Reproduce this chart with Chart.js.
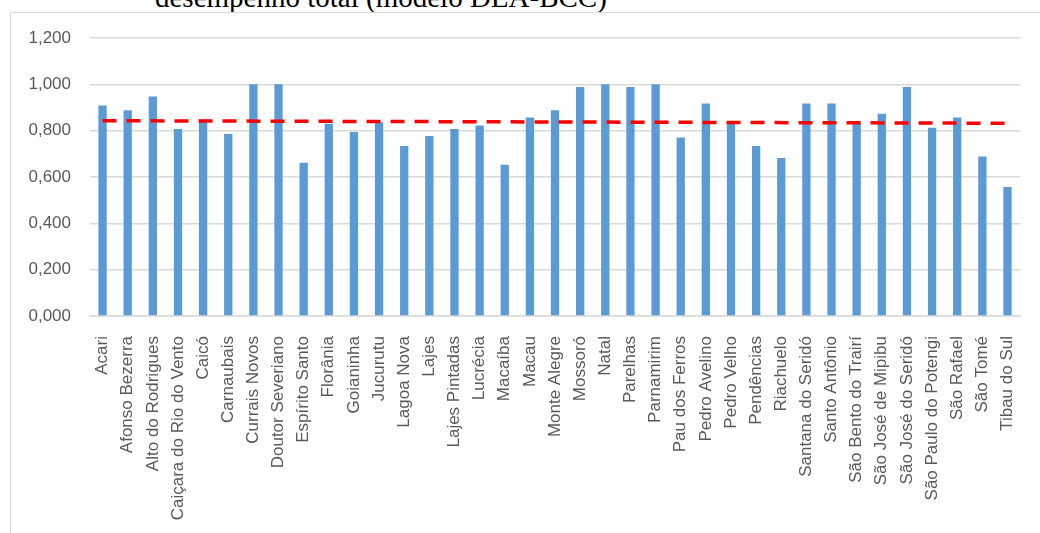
<!DOCTYPE html>
<html>
<head>
<meta charset="utf-8">
<script src="https://cdn.jsdelivr.net/npm/chart.js@4/dist/chart.umd.min.js"></script>
<style>
  html, body { margin: 0; padding: 0; background: #fff; overflow: hidden; }
  #title {
    position: absolute; left: 155px; top: -17px;
    font: 29px/29px "Liberation Serif", "Times New Roman", serif;
    color: #000; white-space: nowrap;
  }
  #frame {
    position: absolute; left: 10px; top: 12px; width: 1100px; height: 600px;
    border: 1.5px solid #d9d9d9;
  }
  #wrap { position: absolute; left: 0; top: 0; width: 1040px; height: 533px; }
</style>
</head>
<body>
<div id="title">desempenho total (modelo DEA-BCC)</div>
<div id="frame"></div>
<div id="wrap"><canvas id="chart"></canvas></div>
<script>
/* ---------- DATA ---------- */
const cities = [
  "Acari", "Afonso Bezerra", "Alto do Rodrigues", "Caiçara do Rio do Vento", "Caicó",
  "Carnaubais", "Currais Novos", "Doutor Severiano", "Espírito Santo", "Florânia",
  "Goianinha", "Jucurutu", "Lagoa Nova", "Lajes", "Lajes Pintadas", "Lucrécia",
  "Macaíba", "Macau", "Monte Alegre", "Mossoró", "Natal", "Parelhas", "Parnamirim",
  "Pau dos Ferros", "Pedro Avelino", "Pedro Velho", "Pendências", "Riachuelo",
  "Santana do Seridó", "Santo Antônio", "São Bento do Trairí", "São José de Mipibu",
  "São José do Seridó", "São Paulo do Potengi", "São Rafael", "São Tomé", "Tibau do Sul"
];

const efficiency = [
  0.909, 0.888, 0.947, 0.807, 0.848,
  0.786, 1.000, 1.000, 0.662, 0.830,
  0.794, 0.836, 0.734, 0.777, 0.807, 0.822,
  0.653, 0.857, 0.888, 0.988, 1.000, 0.988, 1.000,
  0.770, 0.917, 0.829, 0.734, 0.682,
  0.917, 0.917, 0.833, 0.873,
  0.988, 0.813, 0.857, 0.689, 0.557
];

const trendStart = 0.843;
const trendEnd = 0.832;

const yTicks = [0, 0.2, 0.4, 0.6, 0.8, 1.0, 1.2];

/* ---------- CHART ---------- */
const last = cities.length - 1;
const trend = cities.map((_, i) => i === 0 ? trendStart : (i === last ? trendEnd : null));

const labelColor = "#595959";
const gridColor = "#d9d9d9";

new Chart(document.getElementById("chart"), {
  data: {
    labels: cities,
    datasets: [
      {
        type: "line",
        data: trend,
        spanGaps: true,
        borderColor: "#ff0000",
        borderWidth: 3.5,
        borderDash: [14, 10],
        pointRadius: 0,
        fill: false,
        order: 0
      },
      {
        type: "bar",
        data: efficiency,
        backgroundColor: "#5b9bd5",
        barPercentage: 0.33,
        categoryPercentage: 1,
        order: 1
      }
    ]
  },
  options: {
    responsive: true,
    maintainAspectRatio: false,
    animation: false,
    layout: { padding: { top: 38, right: 8, left: 0, bottom: 0 } },
    plugins: { legend: { display: false }, tooltip: { enabled: false } },
    scales: {
      x: {
        grid: { display: false },
        border: { color: gridColor, width: 1.5 },
        ticks: {
          autoSkip: false,
          maxRotation: 90,
          minRotation: 90,
          padding: 12,
          color: labelColor,
          font: { family: "'Liberation Sans', Arial, sans-serif", size: 17 }
        },
        afterFit: s => { s.height = 217; }
      },
      y: {
        min: 0,
        max: 1.2,
        afterBuildTicks: s => { s.ticks = yTicks.map(v => ({ value: v })); },
        grid: { color: gridColor, lineWidth: 1.5, drawTicks: false },
        border: { display: false },
        ticks: {
          padding: 19,
          color: labelColor,
          font: { family: "'Liberation Sans', Arial, sans-serif", size: 17 },
          callback: v => v.toFixed(3).replace(".", ",")
        },
        afterFit: s => { s.width = 90; }
      }
    }
  }
});
</script>
</body>
</html>
